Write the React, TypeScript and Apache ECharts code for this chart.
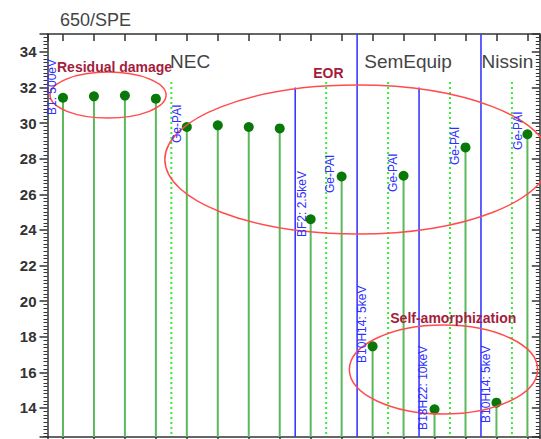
import React, { useEffect, useRef } from "react";
import * as echarts from "echarts";

// ---- data ----
const positions = [1, 2, 3, 4, 5, 6, 7, 8, 9, 10, 11, 12, 13, 14, 15, 16];
const values = [31.42, 31.5, 31.54, 31.37, 29.78, 29.87, 29.78, 29.7, 24.6, 27.0, 17.46, 27.04, 13.93, 28.63, 14.3, 29.37];

const X_MIN = 0.5;
const X_MAX = 16.4;
const Y_MIN = 12.37;
const Y_MAX = 35;

// vertical guide lines: [x, top value]
const blueLines: [number, number][] = [[8.5, 32], [10.5, Y_MAX], [12.5, 32], [14.5, Y_MAX]];
const dottedLines: [number, number][] = [[4.5, 32.3], [9.5, 32.3], [11.5, 32.3], [13.5, 32.3], [15.5, 32.3]];

// rotated blue process labels: [text, x, y at start of text]
const processLabels: [string, number, number][] = [
  ["B1: 500eV", 0.645, 30.45],
  ["Ge-PAI", 4.69, 28.88],
  ["BF2: 2.5keV", 8.73, 23.6],
  ["Ge-PAI", 9.63, 26.07],
  ["Ge-PAI", 11.67, 26.13],
  ["Ge-PAI", 13.67, 27.64],
  ["Ge-PAI", 15.68, 28.49],
  ["B10H14: 5keV", 10.67, 16.53],
  ["B18H22: 10keV", 12.64, 12.77],
  ["B10H14: 5keV", 14.65, 13.16],
];

// vendor group labels: [text, x(left), y(middle)]
const vendorLabels: [string, number, number][] = [
  ["NEC", 4.46, 33.48],
  ["SemEquip", 10.73, 33.43],
  ["Nissin", 14.52, 33.43],
];

// region annotations: [text, x(left), y(middle)]
const regionLabels: [string, number, number][] = [
  ["Residual damage", 0.807, 33.15],
  ["EOR", 9.08, 32.81],
  ["Self-amorphization", 11.57, 19.05],
];

// ellipses: [cx, cy, rx, ry] in data units
const regionEllipses: [number, number, number, number][] = [
  [2.456, 31.57, 1.875, 1.29],
  [10.5, 27.95, 6.21, 4.18],
  [13.29, 16.16, 3.04, 2.5],
];

const FONT = "Arial, 'Liberation Sans', sans-serif";

export default function App() {
  const ref = useRef<HTMLDivElement>(null);
  useEffect(() => {
    if (!ref.current) return;
    const chart = echarts.init(ref.current, undefined, { renderer: "svg" });

    const axisLine = { show: true, lineStyle: { color: "#333", width: 1.5 } };
    const baseX = {
      type: "value" as const,
      min: X_MIN,
      max: X_MAX,
      minInterval: 1,
      maxInterval: 1,
      splitNumber: 16,
      axisLine,
      axisLabel: { show: false },
      splitLine: { show: false },
    };
    const baseY = {
      type: "value" as const,
      min: Y_MIN,
      max: Y_MAX,
      minInterval: 2,
      maxInterval: 2,
      splitNumber: 11,
      axisLine,
      splitLine: { show: false },
    };

    const stemData = positions.map((p, i) => [p, values[i]]);

    const guideSeries = (data: [number, number][], stroke: string, dash: number[] | null, width: number) => ({
      type: "custom" as const,
      xAxisIndex: 0,
      yAxisIndex: 0,
      silent: true,
      data,
      renderItem: (params: any, api: any) => {
        const x = api.value(0);
        const t = api.coord([x, api.value(1)]);
        const b = api.coord([x, Y_MIN]);
        return {
          type: "line",
          shape: { x1: t[0], y1: t[1], x2: b[0], y2: b[1] },
          style: { stroke, lineWidth: width, lineDash: dash || undefined, fill: null },
        };
      },
    });

    chart.setOption({
      animation: false,
      backgroundColor: "#fff",
      title: {
        text: "650/SPE",
        left: 55,
        top: 6,
        textStyle: { fontSize: 18, fontWeight: "normal", color: "#444", fontFamily: FONT },
      },
      grid: { left: 47.5, right: 1.2, top: 34, bottom: 2, containLabel: false },
      xAxis: [
        { ...baseX, position: "bottom", axisTick: { show: true, inside: false, length: 6, lineStyle: { color: "#333", width: 1.5 } } },
        { ...baseX, position: "top", axisTick: { show: true, inside: true, length: 7, lineStyle: { color: "#333", width: 1.5 } } },
      ],
      yAxis: [
        {
          ...baseY,
          position: "left",
          axisTick: { show: true, inside: false, length: 8, lineStyle: { color: "#333", width: 1.5 } },
          minorTick: { show: true, splitNumber: 10, length: 4, lineStyle: { color: "#333", width: 1 } },
          axisLabel: {
            show: true,
            margin: 11,
            fontSize: 15,
            fontWeight: "bold",
            color: "#333",
            fontFamily: FONT,
            formatter: (v: number) => {
              const r = Math.round(v);
              return Math.abs(v - r) < 1e-6 && r % 2 === 0 && r <= 34 && r >= 14 ? String(r) : "";
            },
          },
        },
        {
          ...baseY,
          position: "right",
          axisTick: { show: true, inside: true, length: 8, lineStyle: { color: "#333", width: 1.5 } },
          minorTick: { show: true, splitNumber: 10, length: 4, lineStyle: { color: "#333", width: 1 } },
          axisLabel: { show: false },
        },
      ],
      series: [
        guideSeries(dottedLines, "#33ee33", [2, 3], 2),
        guideSeries(blueLines, "#3a3aff", null, 1.6),
        {
          type: "custom",
          xAxisIndex: 0,
          yAxisIndex: 0,
          silent: true,
          data: stemData,
          renderItem: (params: any, api: any) => {
            const x = api.value(0);
            const t = api.coord([x, api.value(1)]);
            const b = api.coord([x, Y_MIN]);
            return {
              type: "line",
              shape: { x1: t[0], y1: t[1], x2: b[0], y2: b[1] },
              style: { stroke: "#5cb85c", lineWidth: 2 },
            };
          },
        },
        {
          type: "scatter",
          xAxisIndex: 0,
          yAxisIndex: 0,
          symbol: "circle",
          symbolSize: 10,
          itemStyle: { color: "#087808", opacity: 1 },
          data: stemData,
          silent: true,
        },
      ],
    });

    const toPx = (p: number[]) => chart.convertToPixel({ xAxisIndex: 0, yAxisIndex: 0 }, p) as number[];
    const graphics: any[] = [];

    regionEllipses.forEach(([cx, cy, rx, ry]) => {
      const c = toPx([cx, cy]);
      const e = toPx([cx + rx, cy + ry]);
      graphics.push({
        type: "ellipse",
        silent: true,
        shape: { cx: c[0], cy: c[1], rx: e[0] - c[0], ry: c[1] - e[1] },
        style: { stroke: "#ff4d4d", lineWidth: 1.5, fill: "none" },
        z: 10,
      });
    });

    processLabels.forEach(([text, x, y]) => {
      const p = toPx([x, y]);
      graphics.push({
        type: "text",
        silent: true,
        x: p[0],
        y: p[1],
        rotation: Math.PI / 2,
        style: { text, fill: "#2f2fff", font: `12px ${FONT}`, textAlign: "left", textVerticalAlign: "middle" },
        z: 11,
      });
    });

    vendorLabels.forEach(([text, x, y]) => {
      const p = toPx([x, y]);
      graphics.push({
        type: "text",
        silent: true,
        x: p[0],
        y: p[1],
        style: { text, fill: "#444", font: `19px ${FONT}`, textAlign: "left", textVerticalAlign: "middle" },
        z: 11,
      });
    });

    regionLabels.forEach(([text, x, y]) => {
      const p = toPx([x, y]);
      graphics.push({
        type: "text",
        silent: true,
        x: p[0],
        y: p[1],
        style: { text, fill: "#a31d3c", font: `bold 14px ${FONT}`, textAlign: "left", textVerticalAlign: "middle" },
        z: 12,
      });
    });

    chart.setOption({ graphic: graphics });

    return () => chart.dispose();
  }, []);

  return (
    <div style={{ position: "fixed", left: 0, top: 0, width: 541, height: 439, background: "#fff", overflow: "hidden" }}>
      <div ref={ref} style={{ width: 541, height: 439 }} />
    </div>
  );
}
